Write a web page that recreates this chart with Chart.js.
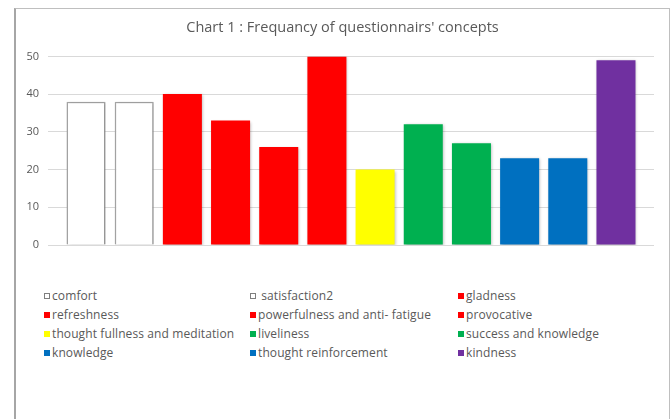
<!DOCTYPE html>
<html>
<head>
<meta charset="utf-8">
<script src="https://cdn.jsdelivr.net/npm/chart.js@4.4.1/dist/chart.umd.min.js"></script>
<style>
  body { margin: 0; background: #fff; font-family: "Open Sans", sans-serif; }
  #box {
    position: absolute; left: 14px; top: 8px; width: 653px; height: 440px;
    border: 1px solid #bfbfbf; border-left: 2px solid #a6a6a6; background: #fff;
  }
  #myChart { position: absolute; left: 0; top: 0; }
  #legend {
    position: absolute; left: 28px; top: 277px;
    display: grid; grid-template-columns: 206px 208px 200px;
    font-size: 12px; letter-spacing: 0.1px; color: #595959; line-height: 19px;
  }
  #legend span.item { white-space: pre; display: flex; align-items: center; }
  #legend i { display: inline-block; width: 6px; height: 6px; margin-right: 2px; box-sizing: border-box; }
</style>
</head>
<body>
<div id="box">
  <canvas id="myChart" width="653" height="270"></canvas>
  <div id="legend"></div>
</div>
<script>
// data
const concepts = [
  "comfort", " satisfaction2", "gladness",
  "refreshness", "powerfulness and anti- fatigue", "provocative",
  "thought fullness and meditation", "liveliness", "success and knowledge",
  "knowledge", "thought reinforcement", "kindness",
];
const frequency = [38, 38, 40, 33, 26, 50, 20, 32, 27, 23, 23, 49];
const yTicks = [0, 10, 20, 30, 40, 50];

const fillColors = [
  "#ffffff", "#ffffff", "#ff0000", "#ff0000", "#ff0000", "#ff0000",
  "#ffff00", "#00b050", "#00b050", "#0070c0", "#0070c0", "#7030a0",
];

const datasets = concepts.map((name, i) => ({
  label: name,
  data: [frequency[i]],
  backgroundColor: fillColors[i],
  borderColor: fillColors[i] === "#ffffff" ? "#a6a6a6" : fillColors[i],
  borderWidth: fillColors[i] === "#ffffff" ? 1.5 : 0,
  categoryPercentage: 0.954,
  barPercentage: 0.81,
}));

const shadowPlugin = {
  id: "shadow",
  beforeDatasetsDraw(chart) {
    const ctx = chart.ctx;
    ctx.save();
    ctx.shadowColor = "rgba(0,0,0,0.28)";
    ctx.shadowBlur = 3;
    ctx.shadowOffsetX = 1;
    ctx.shadowOffsetY = 1;
  },
  afterDatasetsDraw(chart) {
    chart.ctx.restore();
  },
};

const myChart = new Chart(document.getElementById("myChart"), {
  type: "bar",
  data: { labels: [""], datasets: datasets },
  plugins: [shadowPlugin],
  options: {
    responsive: false,
    animation: false,
    layout: { padding: { top: 10, left: 0, right: 0, bottom: 34 } },
    plugins: {
      legend: { display: false },
      tooltip: { enabled: false },
      title: {
        display: true,
        text: "Chart 1 : Frequancy of questionnairs' concepts",
        color: "#595959",
        font: { family: "Open Sans", size: 14.5, weight: "normal" },
        padding: { top: 0, bottom: 20 },
      },
    },
    scales: {
      x: { display: false },
      y: {
        min: yTicks[0],
        max: yTicks[yTicks.length - 1],
        afterBuildTicks: (axis) => { axis.ticks = yTicks.map((v) => ({ value: v })); },
        afterFit: (axis) => { axis.width = 32; },
        border: { display: false },
        grid: { color: "#d9d9d9", drawTicks: false },
        ticks: { color: "#595959", padding: 9, font: { family: "Open Sans", size: 11 } },
      },
      // empty right axis, only to keep a margin on the right
      yRight: {
        position: "right",
        min: yTicks[0],
        max: yTicks[yTicks.length - 1],
        afterFit: (axis) => { axis.width = 15; },
        border: { display: false },
        grid: { display: false },
        ticks: { display: false },
      },
    },
  },
});

// legend in three columns, like the original
const legendEl = document.getElementById("legend");
myChart.data.datasets.forEach((ds) => {
  const item = document.createElement("span");
  item.className = "item";
  const mark = document.createElement("i");
  mark.style.background = ds.backgroundColor;
  if (ds.borderWidth) mark.style.border = "1px solid #7f7f7f";
  item.appendChild(mark);
  item.appendChild(document.createTextNode(ds.label));
  legendEl.appendChild(item);
});
</script>
</body>
</html>
